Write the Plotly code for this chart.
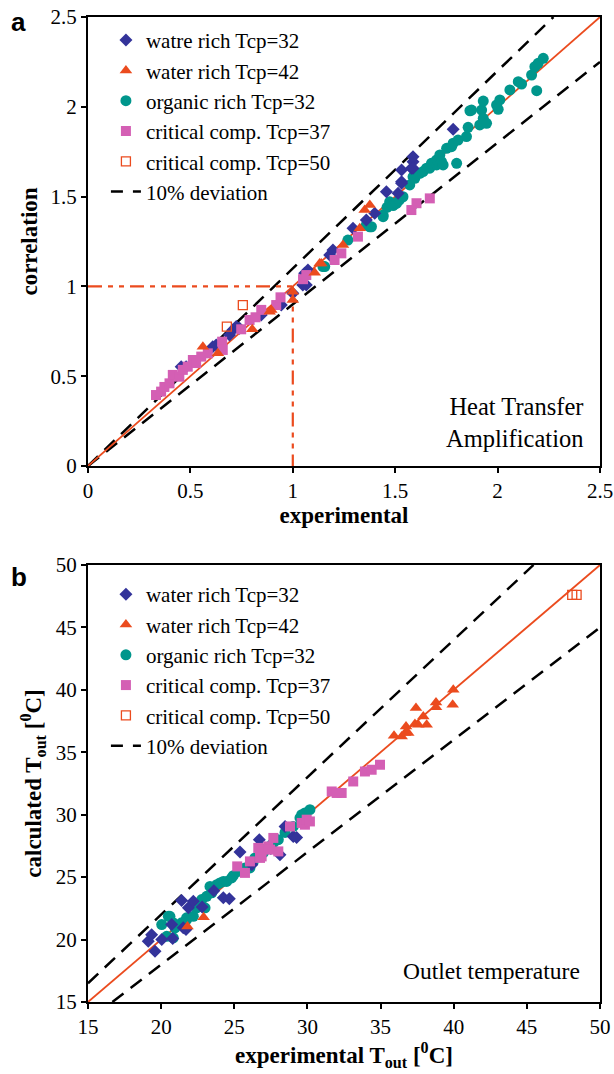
import plotly.graph_objects as go

# ---------------- Panel a: Heat transfer amplification ----------------
a_wr32_x = [0.455, 0.479, 0.609, 0.626, 0.691, 0.707, 0.724, 0.740, 0.846, 0.944, 1.000, 1.049, 1.066, 1.058,
            1.074, 1.180, 1.196, 1.294, 1.359, 1.400, 1.457, 1.514, 1.531, 1.531, 1.531, 1.579, 1.587, 1.587,
            1.587, 1.783]
a_wr32_y = [0.553, 0.553, 0.664, 0.674, 0.729, 0.757, 0.776, 0.767, 0.841, 0.896, 0.962, 1.008, 1.008, 1.073,
            1.091, 1.175, 1.203, 1.323, 1.370, 1.407, 1.527, 1.518, 1.583, 1.574, 1.648, 1.658, 1.694, 1.722,
            1.658, 1.875]

a_wr42_x = [0.561, 0.634, 0.802, 0.887, 0.895, 1.000, 1.000, 1.107, 1.131, 1.139, 1.245, 1.327, 1.351, 1.376]
a_wr42_y = [0.664, 0.627, 0.761, 0.859, 0.869, 0.970, 0.924, 1.076, 1.128, 1.128, 1.230, 1.323, 1.425, 1.453]

a_or32_x = [1.147, 1.156, 1.269, 1.359, 1.376, 1.384, 1.441, 1.441, 1.460, 1.473, 1.490, 1.506, 1.520, 1.538,
            1.571, 1.587, 1.596, 1.604, 1.620, 1.636, 1.653, 1.669, 1.677, 1.702, 1.702, 1.718, 1.726, 1.734,
            1.751, 1.775, 1.783, 1.800, 1.807, 1.848, 1.856, 1.865, 1.873, 1.913, 1.922, 1.930, 1.930, 1.946,
            1.995, 2.003, 2.011, 2.060, 2.101, 2.117, 2.166, 2.182, 2.191, 2.198, 2.223]
a_or32_y = [1.110, 1.110, 1.258, 1.342, 1.332, 1.332, 1.388, 1.397, 1.440, 1.471, 1.450, 1.462, 1.480, 1.499,
            1.565, 1.610, 1.602, 1.630, 1.630, 1.639, 1.658, 1.658, 1.685, 1.676, 1.704, 1.732, 1.694, 1.676,
            1.769, 1.778, 1.797, 1.685, 1.815, 1.834, 1.886, 1.978, 1.982, 1.899, 1.982, 1.936, 2.032, 1.908,
            2.010, 1.986, 2.038, 2.094, 2.140, 2.127, 2.177, 2.223, 2.090, 2.242, 2.270]

a_cc37_x = [0.332, 0.357, 0.373, 0.398, 0.414, 0.446, 0.463, 0.487, 0.512, 0.528, 0.553, 0.585, 0.655, 0.658,
            0.748, 0.789, 0.818, 0.846, 0.919, 0.940, 1.050, 1.066, 1.204, 1.237, 1.318, 1.579, 1.604, 1.669]
a_cc37_y = [0.395, 0.414, 0.440, 0.460, 0.507, 0.497, 0.535, 0.553, 0.590, 0.573, 0.609, 0.627, 0.692, 0.646,
            0.761, 0.813, 0.828, 0.869, 0.896, 0.939, 1.040, 1.063, 1.147, 1.184, 1.277, 1.425, 1.463, 1.490]

a_cc50_x = [0.678, 0.756]
a_cc50_y = [0.776, 0.896]

a_ticks = [0, 0.5, 1, 1.5, 2, 2.5]
a_ticktext = ["0", "0.5", "1", "1.5", "2", "2.5"]

# ---------------- Panel b: Outlet temperature ----------------
b_wr32_x = [19.12, 19.35, 19.58, 20.04, 20.79, 20.72, 21.40, 21.51, 21.70, 21.86, 22.20, 22.80, 23.60, 24.25,
            24.66, 25.39, 26.20, 26.71, 27.50, 28.12, 28.47, 29.03, 29.26]
b_wr32_y = [19.86, 20.38, 19.06, 20.00, 20.08, 21.20, 23.12, 20.94, 20.80, 22.54, 23.06, 22.60, 23.90, 23.34,
            23.26, 27.02, 26.00, 28.00, 27.30, 26.80, 29.06, 28.26, 28.18]

b_wr42_x = [21.80, 22.90, 35.92, 36.44, 36.67, 36.74, 36.89, 37.35, 37.42, 37.58, 37.92, 38.15, 38.79, 38.79,
            39.93, 39.97]
b_wr42_y = [21.04, 21.78, 36.32, 36.26, 36.54, 37.06, 36.54, 37.26, 38.54, 37.20, 37.86, 37.20, 38.98, 38.60,
            38.80, 40.00]

b_or32_x = [20.04, 20.38, 20.49, 20.60, 20.83, 20.83, 20.95, 21.40, 21.74, 21.74, 22.20, 22.43, 22.43, 22.77,
            23.00, 23.11, 23.34, 23.46, 23.57, 23.80, 24.02, 24.25, 24.48, 24.82, 24.93, 25.27, 25.73, 26.07,
            26.30, 26.41, 26.98, 26.98, 27.56, 27.67, 28.01, 28.47, 29.03, 29.49, 29.61, 29.83, 30.17]
b_or32_y = [21.20, 20.26, 21.86, 21.86, 21.34, 20.14, 20.94, 21.34, 21.60, 21.74, 21.86, 22.54, 22.66, 23.20,
            22.54, 23.46, 24.26, 23.74, 24.00, 24.40, 24.54, 24.66, 24.66, 24.94, 25.12, 25.46, 25.74, 25.74,
            26.26, 26.54, 26.94, 27.20, 27.60, 27.74, 28.00, 28.58, 29.06, 29.74, 30.00, 30.14, 30.40]

b_cc37_x = [25.20, 25.73, 26.07, 26.64, 26.76, 26.87, 26.76, 27.32, 27.44, 27.67, 28.01, 28.81, 29.61, 29.83,
            29.95, 30.17, 31.66, 32.00, 32.34, 33.13, 33.93, 34.39, 34.96]
b_cc37_y = [25.86, 25.34, 26.26, 27.34, 26.54, 26.66, 27.20, 27.46, 27.20, 28.14, 27.06, 29.06, 29.34, 29.20,
            29.60, 29.46, 31.86, 31.74, 31.74, 32.66, 33.46, 33.60, 34.00]

b_cc50_x = [48.10, 48.40]
b_cc50_y = [47.60, 47.60]

b_ticks = [15, 20, 25, 30, 35, 40, 45, 50]
b_ticktext = ["15", "20", "25", "30", "35", "40", "45", "50"]

# line references
a_line = [0, 2.5]
b_line = [15, 50]

NAVY = "#33339a"
RED = "#eb4b1e"
TEAL = "#00968c"
PINK = "#d45fb4"
SERIF = "Liberation Serif"

fig = go.Figure()


def add_panel(xa, ya, legend, labels, data, line_rng):
    (wx, wy), (rx, ry), (ox, oy), (cx, cy), (qx, qy) = data
    lo, hi = line_rng
    # 10% deviation lines
    fig.add_trace(go.Scatter(x=[lo, hi / 1.1, None, lo / 0.9, hi],
                             y=[lo * 1.1, hi, None, lo, hi * 0.9],
                             mode="lines", line=dict(color="black", width=2.5, dash="14px,9px"),
                             xaxis=xa, yaxis=ya, showlegend=False, hoverinfo="skip"))
    # 1:1 line
    fig.add_trace(go.Scatter(x=[lo, hi], y=[lo, hi], mode="lines",
                             line=dict(color=RED, width=1.8), xaxis=xa, yaxis=ya,
                             showlegend=False, hoverinfo="skip"))
    fig.add_trace(go.Scatter(x=ox, y=oy, mode="markers", name=labels[2],
                             marker=dict(symbol="circle", size=11, color=TEAL),
                             xaxis=xa, yaxis=ya, legend=legend, legendrank=3))
    fig.add_trace(go.Scatter(x=wx, y=wy, mode="markers", name=labels[0],
                             marker=dict(symbol="diamond", size=10, color=NAVY),
                             xaxis=xa, yaxis=ya, legend=legend, legendrank=1))
    fig.add_trace(go.Scatter(x=cx, y=cy, mode="markers", name=labels[3],
                             marker=dict(symbol="square", size=10, color=PINK),
                             xaxis=xa, yaxis=ya, legend=legend, legendrank=4))
    fig.add_trace(go.Scatter(x=rx, y=ry, mode="markers", name=labels[1],
                             marker=dict(symbol="triangle-up", size=11, color=RED),
                             xaxis=xa, yaxis=ya, legend=legend, legendrank=2))
    fig.add_trace(go.Scatter(x=qx, y=qy, mode="markers", name=labels[4],
                             marker=dict(symbol="square-open", size=9, color=RED, line=dict(width=1.3)),
                             xaxis=xa, yaxis=ya, legend=legend, legendrank=5))
    # legend-only dashed entry
    fig.add_trace(go.Scatter(x=[None], y=[None], mode="lines", name="10% deviation",
                             line=dict(color="black", width=2.5, dash="12px,10px"),
                             xaxis=xa, yaxis=ya, legend=legend, legendrank=6))


add_panel("x", "y", "legend",
          ["watre rich Tcp=32", "water rich Tcp=42", "organic rich Tcp=32",
           "critical comp. Tcp=37", "critical comp. Tcp=50"],
          [(a_wr32_x, a_wr32_y), (a_wr42_x, a_wr42_y), (a_or32_x, a_or32_y),
           (a_cc37_x, a_cc37_y), (a_cc50_x, a_cc50_y)], a_line)

# dash-dot-dot reference lines at 1
fig.add_trace(go.Scatter(x=[0, 1, None, 1, 1], y=[1, 1, None, 1, 0], mode="lines",
                         line=dict(color=RED, width=2.2, dash="14px,6px,5px,6px,5px,6px"),
                         xaxis="x", yaxis="y", showlegend=False, hoverinfo="skip"))

add_panel("x2", "y2", "legend2",
          ["water rich Tcp=32", "water rich Tcp=42", "organic rich Tcp=32",
           "critical comp. Tcp=37", "critical comp. Tcp=50"],
          [(b_wr32_x, b_wr32_y), (b_wr42_x, b_wr42_y), (b_or32_x, b_or32_y),
           (b_cc37_x, b_cc37_y), (b_cc50_x, b_cc50_y)], b_line)

axis_common = dict(showline=True, linecolor="black", linewidth=2, mirror=True, showgrid=False,
                   zeroline=False, ticks="outside", ticklen=5, tickwidth=1.5, tickcolor="black",
                   automargin=False,
                   tickfont=dict(family=SERIF, size=21, color="black"))

legend_common = dict(font=dict(family=SERIF, size=21, color="black"), bgcolor="rgba(0,0,0,0)",
                     borderwidth=0, xanchor="left", yanchor="top", tracegroupgap=0,
                     itemwidth=30)

title_font = dict(family=SERIF, size=23, color="black")

fig.update_layout(
    width=614, height=1074,
    margin=dict(l=88, r=14, t=17, b=72, autoexpand=False),
    plot_bgcolor="white", paper_bgcolor="white",
    xaxis=dict(domain=[0, 1], anchor="y", range=[0, 2.5], tickvals=a_ticks, ticktext=a_ticktext,
               title=dict(text="<b>experimental</b>", font=title_font, standoff=0), **axis_common),
    yaxis=dict(domain=[0.5442, 1], anchor="x", range=[0, 2.5], tickvals=a_ticks, ticktext=a_ticktext,
               title=dict(text="<b>correlation</b>", font=title_font, standoff=6), **axis_common),
    xaxis2=dict(domain=[0, 1], anchor="y2", range=[15, 50], tickvals=b_ticks, ticktext=b_ticktext,
                title=dict(text="<b>experimental T<sub>out</sub> [<sup>0</sup>C]</b>", font=title_font,
                           standoff=0), **axis_common),
    yaxis2=dict(domain=[0, 0.4437], anchor="x2", range=[15, 50], tickvals=b_ticks, ticktext=b_ticktext,
                title=dict(text="<b>calculated T<sub>out</sub> [<sup>0</sup>C]</b>", font=title_font,
                           standoff=8), **axis_common),
    legend=dict(x=0.035, y=0.997, xref="paper", yref="paper", **legend_common),
    legend2=dict(x=0.035, y=0.4345, xref="paper", yref="paper", **legend_common),
    annotations=[
        dict(text="Heat Transfer<br>Amplification", xref="x domain", yref="y domain", x=0.971, y=0.096,
             xanchor="right", yanchor="middle", align="right", showarrow=False,
             font=dict(family=SERIF, size=24.5, color="black")),
        dict(text="Outlet temperature", xref="x2 domain", yref="y2 domain", x=0.965, y=0.07,
             xanchor="right", yanchor="middle", align="right", showarrow=False,
             font=dict(family=SERIF, size=23.5, color="black")),
        dict(text="<b>a</b>", xref="paper", yref="paper", x=-0.155, y=0.995, xanchor="left",
             yanchor="middle", showarrow=False, font=dict(family="Liberation Sans", size=26, color="black")),
        dict(text="<b>b</b>", xref="paper", yref="paper", x=-0.155, y=0.4315, xanchor="left",
             yanchor="middle", showarrow=False, font=dict(family="Liberation Sans", size=26, color="black")),
    ],
)

fig.write_html("out.html")
